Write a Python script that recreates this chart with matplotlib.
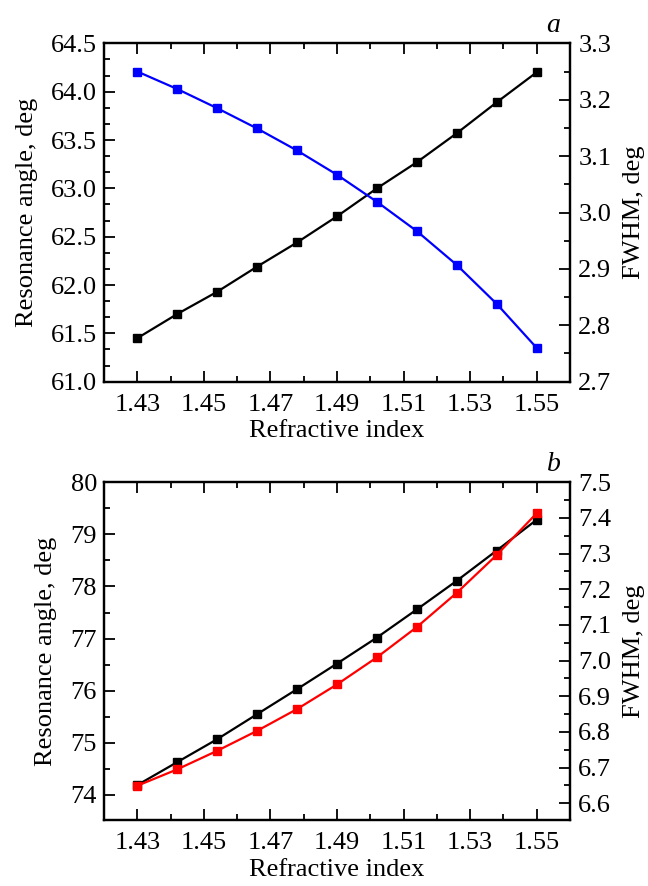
import matplotlib
matplotlib.use("Agg")
import matplotlib.pyplot as plt
from matplotlib.ticker import MultipleLocator, FormatStrFormatter

plt.rcParams['font.family'] = ['Liberation Serif', 'DejaVu Serif']
plt.rcParams['font.size'] = 19

# refractive index values (same for both panels)
n_idx = [1.430, 1.442, 1.454, 1.466, 1.478, 1.490, 1.502, 1.514, 1.526, 1.538, 1.550]

# panel a
angle_a = [61.45, 61.70, 61.93, 62.19, 62.44, 62.71, 63.00, 63.27, 63.57, 63.89, 64.20]
fwhm_a = [3.250, 3.219, 3.185, 3.149, 3.110, 3.067, 3.019, 2.967, 2.907, 2.838, 2.760]

# panel b
angle_b = [74.19, 74.63, 75.07, 75.55, 76.03, 76.52, 77.02, 77.56, 78.11, 78.69, 79.28]
fwhm_b = [6.649, 6.695, 6.747, 6.803, 6.864, 6.933, 7.009, 7.094, 7.190, 7.296, 7.413]

xticks = [1.43, 1.45, 1.47, 1.49, 1.51, 1.53, 1.55]

fig = plt.figure(figsize=(6.48, 8.86), dpi=100)


def style(ax, right=False):
    ax.tick_params(which='both', direction='in', width=1.3)
    ax.tick_params(which='major', length=8)
    ax.tick_params(which='minor', length=4)
    for s in ax.spines.values():
        s.set_linewidth(1.6)
    if right:
        ax.tick_params(which='both', left=False, right=True, top=False, bottom=False,
                       labelleft=False, labelright=True, pad=6)
    else:
        ax.tick_params(which='both', left=True, right=False, top=True, bottom=True)
        ax.tick_params(axis='x', which='both', pad=9)
        ax.tick_params(axis='y', which='both', pad=5)


def panel(rect, x, y1, y2, c2, ylim1, ylim2, maj1, min1, maj2, min2, fmt1, tag, lp):
    ax = fig.add_axes(rect)
    ax2 = ax.twinx()
    ax.plot(x, y1, '-s', color='black', lw=1.6, ms=6, zorder=3)
    ax2.plot(x, y2, '-s', color=c2, lw=1.6, ms=6, zorder=3)
    ax.set_xlim(1.42, 1.56)
    ax.set_xticks(xticks)
    ax.xaxis.set_minor_locator(MultipleLocator(0.01))
    ax.xaxis.set_major_formatter(FormatStrFormatter('%.2f'))
    ax.set_ylim(*ylim1)
    ax.yaxis.set_major_locator(MultipleLocator(maj1))
    ax.yaxis.set_minor_locator(MultipleLocator(min1))
    ax.yaxis.set_major_formatter(FormatStrFormatter(fmt1))
    ax2.set_ylim(*ylim2)
    ax2.yaxis.set_major_locator(MultipleLocator(maj2))
    ax2.yaxis.set_minor_locator(MultipleLocator(min2))
    ax2.yaxis.set_major_formatter(FormatStrFormatter('%.1f'))
    ax.set_xlabel('Refractive index', labelpad=3)
    ax.set_ylabel('Resonance angle, deg', labelpad=lp)
    ax2.set_ylabel('FWHM, deg', labelpad=8.5)
    style(ax)
    style(ax2, right=True)
    ax.text(0.965, 1.015, tag, transform=ax.transAxes, style='italic',
            ha='center', va='bottom', fontsize=20)
    return ax, ax2


panel([0.1605, 0.5692, 0.719, 0.3819], n_idx, angle_a, fwhm_a, '#0000ff',
      (61.0, 64.5), (2.7, 3.3), 0.5, 0.5 / 3, 0.1, 0.05, '%.1f', 'a', 9)
panel([0.1605, 0.0745, 0.719, 0.3812], n_idx, angle_b, fwhm_b, '#ff0000',
      (73.52, 80.0), (6.553, 7.5), 1.0, 0.5, 0.1, 0.05, '%.0f', 'b', 10)

fig.savefig('out.png', dpi=100)
